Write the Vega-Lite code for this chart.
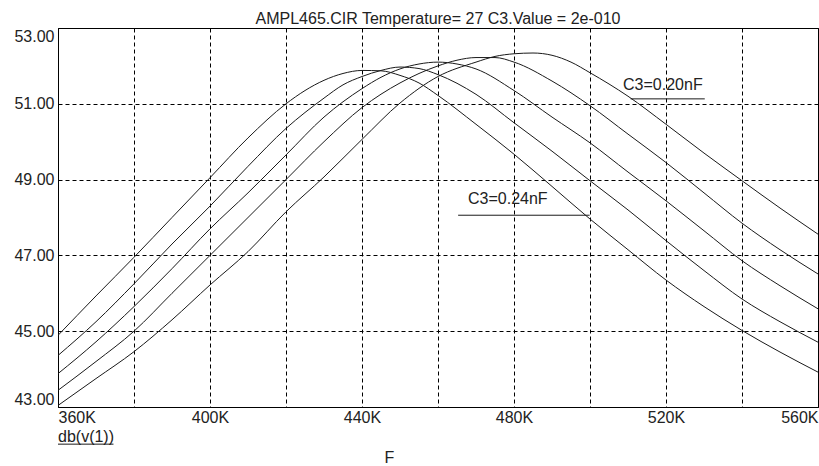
{
  "$schema": "https://vega.github.io/schema/vega-lite/v6.json",
  "autosize": {"type": "none"},
  "width": 760,
  "height": 379,
  "padding": {"left": 58, "top": 28, "right": 1, "bottom": 59},
  "background": "white",
  "title": {
    "text": "AMPL465.CIR Temperature= 27 C3.Value = 2e-010",
    "anchor": "middle",
    "font": "Liberation Sans",
    "fontSize": 16,
    "fontWeight": "normal",
    "color": "#222",
    "baseline": "bottom",
    "offset": 0,
    "dy": 15
  },
  "datasets": {
    "curves": [
      {"c":"A","F":360,"v":44.89},{"c":"A","F":370,"v":45.93},{"c":"A","F":380,"v":46.95},{"c":"A","F":390,"v":48.0},{"c":"A","F":400,"v":49.05},{"c":"A","F":410,"v":50.1},{"c":"A","F":420,"v":51.0},{"c":"A","F":425,"v":51.35},{"c":"A","F":430,"v":51.62},{"c":"A","F":435,"v":51.8},{"c":"A","F":440,"v":51.88},{"c":"A","F":445,"v":51.87},{"c":"A","F":450,"v":51.75},{"c":"A","F":455,"v":51.55},{"c":"A","F":460,"v":51.22},{"c":"A","F":470,"v":50.46},{"c":"A","F":480,"v":49.67},{"c":"A","F":490,"v":48.82},{"c":"A","F":500,"v":47.96},{"c":"A","F":510,"v":47.15},{"c":"A","F":520,"v":46.35},{"c":"A","F":530,"v":45.65},{"c":"A","F":540,"v":45.02},{"c":"A","F":550,"v":44.45},{"c":"A","F":560,"v":43.92},
      {"c":"B","F":360,"v":44.36},{"c":"B","F":370,"v":45.25},{"c":"B","F":380,"v":46.25},{"c":"B","F":390,"v":47.3},{"c":"B","F":400,"v":48.3},{"c":"B","F":410,"v":49.35},{"c":"B","F":420,"v":50.35},{"c":"B","F":430,"v":51.15},{"c":"B","F":435,"v":51.5},{"c":"B","F":440,"v":51.72},{"c":"B","F":445,"v":51.88},{"c":"B","F":450,"v":51.97},{"c":"B","F":455,"v":51.93},{"c":"B","F":460,"v":51.77},{"c":"B","F":470,"v":51.25},{"c":"B","F":480,"v":50.5},{"c":"B","F":490,"v":49.75},{"c":"B","F":500,"v":48.97},{"c":"B","F":510,"v":48.2},{"c":"B","F":520,"v":47.39},{"c":"B","F":530,"v":46.6},{"c":"B","F":540,"v":45.85},{"c":"B","F":550,"v":45.25},{"c":"B","F":560,"v":44.71},
      {"c":"C","F":360,"v":43.88},{"c":"C","F":370,"v":44.72},{"c":"C","F":380,"v":45.65},{"c":"C","F":390,"v":46.65},{"c":"C","F":400,"v":47.7},{"c":"C","F":410,"v":48.65},{"c":"C","F":420,"v":49.65},{"c":"C","F":430,"v":50.65},{"c":"C","F":440,"v":51.4},{"c":"C","F":445,"v":51.7},{"c":"C","F":450,"v":51.92},{"c":"C","F":455,"v":52.05},{"c":"C","F":460,"v":52.1},{"c":"C","F":465,"v":52.05},{"c":"C","F":470,"v":51.92},{"c":"C","F":480,"v":51.35},{"c":"C","F":490,"v":50.65},{"c":"C","F":500,"v":49.97},{"c":"C","F":510,"v":49.2},{"c":"C","F":520,"v":48.44},{"c":"C","F":530,"v":47.65},{"c":"C","F":540,"v":46.86},{"c":"C","F":550,"v":46.2},{"c":"C","F":560,"v":45.59},
      {"c":"D","F":360,"v":43.44},{"c":"D","F":370,"v":44.2},{"c":"D","F":380,"v":45.0},{"c":"D","F":390,"v":46.0},{"c":"D","F":400,"v":47.0},{"c":"D","F":410,"v":48.0},{"c":"D","F":420,"v":49.0},{"c":"D","F":430,"v":50.0},{"c":"D","F":440,"v":50.9},{"c":"D","F":450,"v":51.55},{"c":"D","F":460,"v":52.0},{"c":"D","F":465,"v":52.15},{"c":"D","F":470,"v":52.22},{"c":"D","F":475,"v":52.22},{"c":"D","F":480,"v":52.1},{"c":"D","F":490,"v":51.6},{"c":"D","F":500,"v":50.95},{"c":"D","F":510,"v":50.2},{"c":"D","F":520,"v":49.45},{"c":"D","F":530,"v":48.65},{"c":"D","F":540,"v":47.85},{"c":"D","F":550,"v":47.15},{"c":"D","F":560,"v":46.51},
      {"c":"E","F":360,"v":43.04},{"c":"E","F":370,"v":43.75},{"c":"E","F":380,"v":44.46},{"c":"E","F":390,"v":45.3},{"c":"E","F":400,"v":46.22},{"c":"E","F":410,"v":47.1},{"c":"E","F":420,"v":48.15},{"c":"E","F":430,"v":49.07},{"c":"E","F":440,"v":50.06},{"c":"E","F":450,"v":51.02},{"c":"E","F":460,"v":51.72},{"c":"E","F":470,"v":52.1},{"c":"E","F":475,"v":52.25},{"c":"E","F":480,"v":52.32},{"c":"E","F":485,"v":52.34},{"c":"E","F":490,"v":52.28},{"c":"E","F":495,"v":52.1},{"c":"E","F":500,"v":51.82},{"c":"E","F":510,"v":51.2},{"c":"E","F":520,"v":50.46},{"c":"E","F":530,"v":49.7},{"c":"E","F":540,"v":48.97},{"c":"E","F":550,"v":48.25},{"c":"E","F":560,"v":47.56}
    ],
    "labels": [
      {"text":"C3=0.20nF","F":508.7,"v":51.5},
      {"text":"C3=0.24nF","F":467.9,"v":48.49},
      {"text":"db(v(1))","F":360,"v":42.22}
    ],
    "underlines": [
      {"F1":510.7,"F2":530.2,"v":51.13},
      {"F1":465.3,"F2":499.9,"v":48.06},
      {"F1":360,"F2":374.6,"v":42.02}
    ]
  },
  "layer": [
    {
      "data": {"name": "curves"},
      "mark": {"type": "line", "interpolate": "monotone", "color": "#1a1a1a", "strokeWidth": 1, "clip": true},
      "encoding": {
        "x": {
          "field": "F", "type": "quantitative",
          "scale": {"domain": [360, 560], "nice": false, "zero": false},
          "axis": {
            "values": [360,380,400,420,440,460,480,500,520,540,560],
            "labelExpr": "(datum.value - 360) % 40 == 0 ? datum.value + 'K' : ''",
            "labelFlush": true,
            "labelPadding": 2,
            "ticks": false,
            "domain": false,
            "grid": true,
            "gridColor": "black",
            "gridDash": [4, 3],
            "gridWidth": 1,
            "gridOpacity": 1,
            "labelFont": "Liberation Sans",
            "labelFontSize": 16,
            "labelColor": "#222",
            "title": "F",
            "titleFont": "Liberation Sans",
            "titleFontSize": 16,
            "titleFontWeight": "normal",
            "titleColor": "#222",
            "titleX": 331,
            "titleY": 50,
            "titleBaseline": "middle",
            "titleAlign": "center"
          }
        },
        "y": {
          "field": "v", "type": "quantitative",
          "scale": {"domain": [43, 53], "nice": false, "zero": false},
          "axis": {
            "values": [43,44,45,46,47,48,49,50,51,52,53],
            "labelExpr": "datum.value % 2 == 1 ? format(datum.value, '.2f') : ''",
            "labelFlush": true,
            "labelPadding": 4,
            "ticks": false,
            "domain": false,
            "grid": true,
            "gridColor": "black",
            "gridDash": [4, 3],
            "gridWidth": 1,
            "gridOpacity": 1,
            "labelFont": "Liberation Sans",
            "labelFontSize": 16,
            "labelColor": "#222",
            "title": null
          }
        },
        "detail": {"field": "c", "type": "nominal"}
      }
    },
    {
      "data": {"name": "labels"},
      "mark": {"type": "text", "align": "left", "baseline": "middle", "font": "Liberation Sans", "fontSize": 16, "color": "#222"},
      "encoding": {
        "x": {"field": "F", "type": "quantitative"},
        "y": {"field": "v", "type": "quantitative"},
        "text": {"field": "text"}
      }
    },
    {
      "data": {"name": "underlines"},
      "mark": {"type": "rule", "color": "#1a1a1a", "strokeWidth": 1},
      "encoding": {
        "x": {"field": "F1", "type": "quantitative"},
        "x2": {"field": "F2"},
        "y": {"field": "v", "type": "quantitative"}
      }
    }
  ],
  "config": {
    "view": {"stroke": "black", "strokeWidth": 1}
  }
}
